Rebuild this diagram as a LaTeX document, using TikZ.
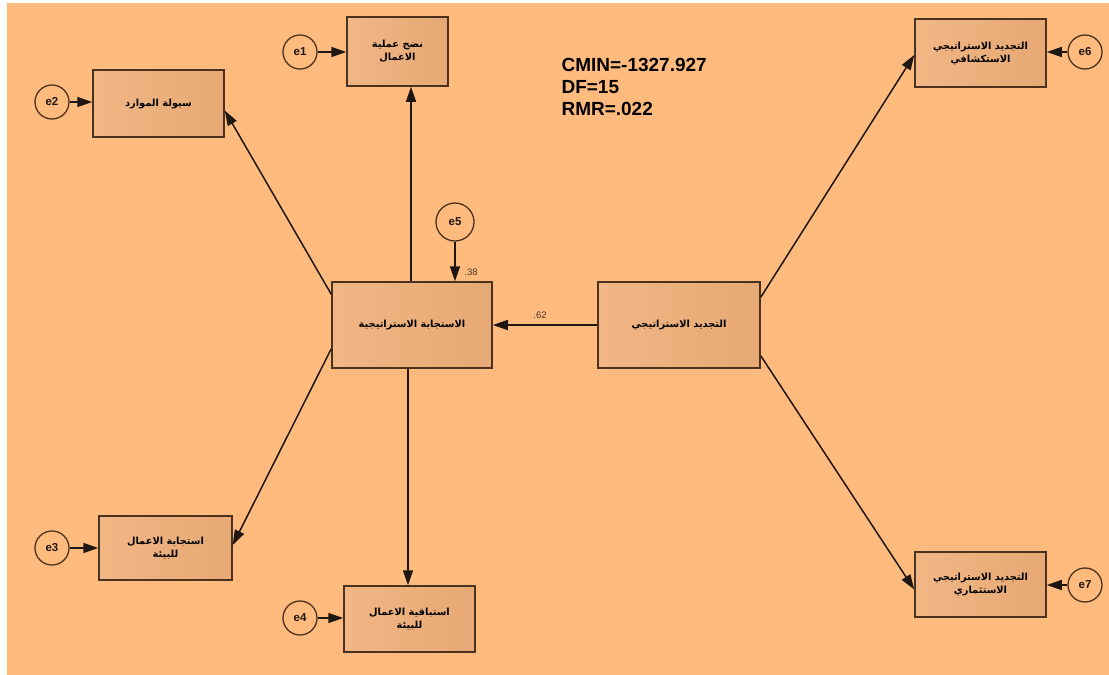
\documentclass[tikz,border=0pt]{standalone}
\usepackage{fontspec}
\setmainfont{Liberation Sans}
\newfontfamily\arabicfont[Script=Arabic]{DejaVu Sans}
\TeXXeTstate=1
\usetikzlibrary{arrows.meta,calc}
\definecolor{bgc}{RGB}{255,187,126}
\definecolor{boxc}{RGB}{240,176,122}
\definecolor{edgec}{RGB}{75,50,30}
\definecolor{linec}{RGB}{30,22,18}
\newcommand{\ar}[1]{\beginR #1\endR}
\begin{document}
\begin{tikzpicture}[x=1pt,y=-1pt,
  varbox/.style={draw=edgec,line width=1.5pt,left color=boxc!92!white,right color=boxc!96!black,anchor=center,inner sep=0pt,align=center,font=\arabicfont\bfseries\fontsize{9.8}{13}\selectfont},
  errc/.style={draw=edgec,line width=1.3pt,circle,inner sep=0pt,font=\bfseries\fontsize{11.5}{13}\selectfont,text=linec},
  conn/.style={draw=linec,line width=1.5pt,-{Triangle[length=15pt,width=10pt]}},
  coef/.style={font=\fontsize{9.5}{11}\selectfont,text=linec!80!bgc},
  fit/.style={font=\bfseries\fontsize{19}{22}\selectfont,anchor=west,text=black}]
\useasboundingbox (0,0) rectangle (1109,675);
\fill[white] (0,0) rectangle (1109,675);
\fill[bgc] (7,3) rectangle (1109,675);

% boxes
\node[varbox,minimum width=101pt,minimum height=69pt] (b1) at (397.5,51.5) {\ar{نضج عملية}\\\ar{الاعمال}};
\node[varbox,minimum width=131pt,minimum height=67pt] (b2) at (158.5,103.5) {\ar{سيولة الموارد}};
\node[varbox,minimum width=160pt,minimum height=86pt] (c) at (412,325) {\ar{الاستجابة الاستراتيجية}};
\node[varbox,minimum width=162pt,minimum height=86pt] (r) at (679,325) {\ar{التجديد الاستراتيجي}};
\node[varbox,minimum width=131pt,minimum height=68pt] (b6) at (980.5,53) {\ar{التجديد الاستراتيجي}\\\ar{الاستكشافي}};
\node[varbox,minimum width=131pt,minimum height=65pt] (b7) at (980.5,584.5) {\ar{التجديد الاستراتيجي}\\\ar{الاستثماري}};
\node[varbox,minimum width=133pt,minimum height=64pt] (b3) at (165.5,548) {\ar{استجابة الاعمال}\\\ar{للبيئة}};
\node[varbox,minimum width=131pt,minimum height=66pt] (b4) at (409.5,619) {\ar{استباقية الاعمال}\\\ar{للبيئة}};

% error circles
\node[errc,minimum size=34pt] (e1) at (300,52) {e1};
\node[errc,minimum size=34pt] (e2) at (52,102) {e2};
\node[errc,minimum size=34pt] (e3) at (52,548) {e3};
\node[errc,minimum size=34pt] (e4) at (300,618) {e4};
\node[errc,minimum size=38pt] (e5) at (455,222) {e5};
\node[errc,minimum size=34pt] (e6) at (1085,52) {e6};
\node[errc,minimum size=34pt] (e7) at (1085,585) {e7};

% error arrows
\draw[conn] (e1) -- (b1.west |- e1);
\draw[conn] (e2) -- (b2.west |- e2);
\draw[conn] (e3) -- (b3.west |- e3);
\draw[conn] (e4) -- (b4.west |- e4);
\draw[conn] (e6) -- (b6.east |- e6);
\draw[conn] (e7) -- (b7.east |- e7);
\draw[conn] (e5) -- (e5 |- c.north);

% structural arrows
\draw[conn] ([xshift=-1pt]c.north) -- ([xshift=-1pt]c.north |- b1.south);
\draw[conn] ([yshift=-13pt]c.north west) -- ([yshift=-7pt]b2.east);
\draw[conn] ([yshift=20pt]c.south west) -- ([yshift=3pt]b3.east);
\draw[conn] ([xshift=-4pt]c.south) -- ([xshift=-4pt]c.south |- b4.north);
\draw[conn] (r.west) -- (c.east);
\draw[conn] ([yshift=-16pt]r.north east) -- ([yshift=-2pt]b6.west);
\draw[conn] ([yshift=13pt]r.south east) -- ([yshift=-5pt]b7.west);

% coefficients
\node[coef] (k62) at (540,315) {.62};
\node[coef] (k38) at (471,272) {.38};

% fit statistics
\node[fit] (cmin) at (558,65) {CMIN=-1327.927};
\node[fit] (df) at (558,87) {DF=15};
\node[fit] (rmr) at (558,109) {RMR=.022};
\end{tikzpicture}
\end{document}
